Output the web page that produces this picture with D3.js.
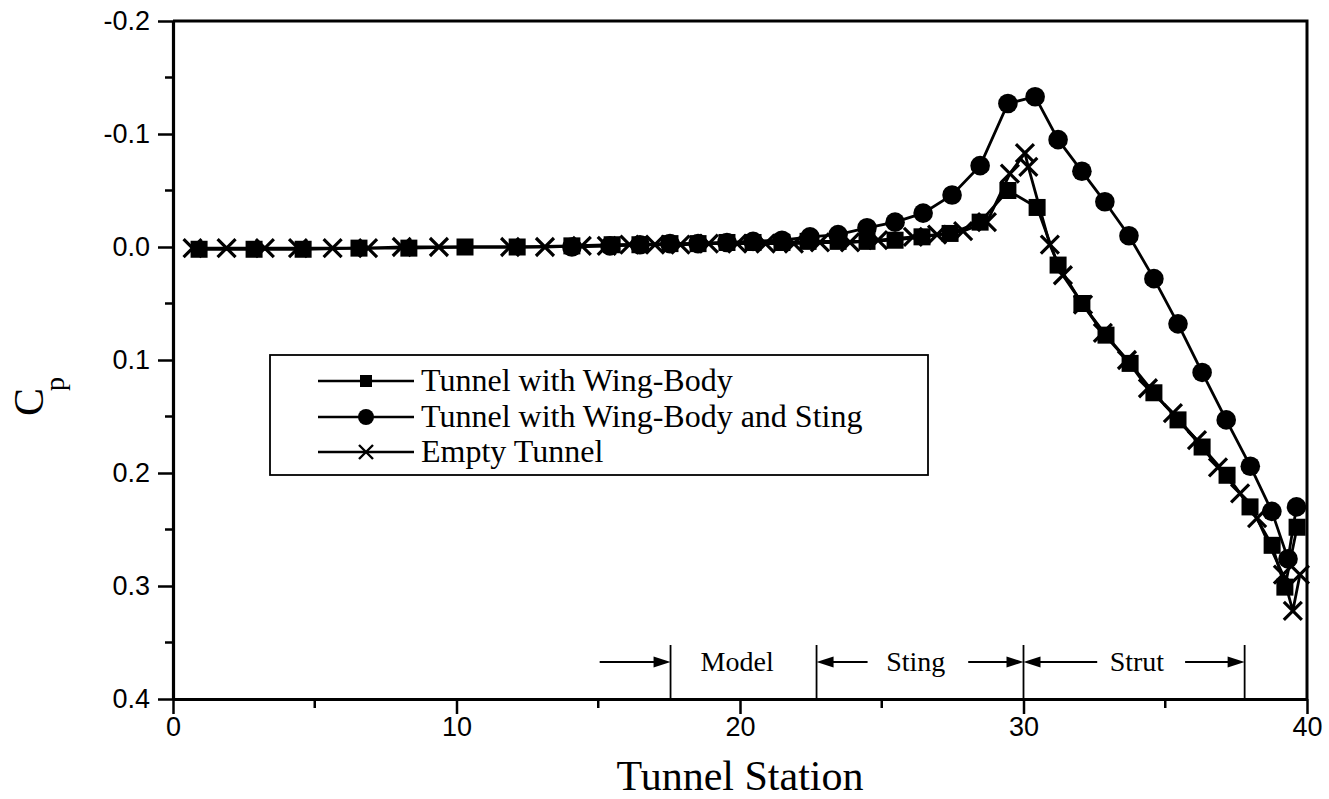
<!DOCTYPE html>
<html><head><meta charset="utf-8">
<script src="https://cdn.jsdelivr.net/npm/d3@7"></script>
<style>body{margin:0;background:#fff}svg{display:block}</style>
</head><body>
<svg id="c" width="1329" height="799"></svg>
<script>
// ---- data ----
const stationsWB = [0.92,2.86,4.59,6.56,8.32,10.30,12.14,14.07,15.49,16.47,17.53,18.52,19.54,20.46,21.48,22.40,23.46,24.48,25.47,26.42,27.41,28.47,29.45,30.48,31.22,32.06,32.91,33.76,34.60,35.45,36.30,37.18,37.99,38.77,39.22,39.65];
const cpWB       = [0.002,0.002,0.002,0.001,0.001,0.000,0.000,-0.001,-0.002,-0.002,-0.003,-0.003,-0.004,-0.004,-0.004,-0.005,-0.005,-0.005,-0.006,-0.009,-0.012,-0.022,-0.050,-0.035,0.016,0.050,0.078,0.103,0.129,0.153,0.177,0.202,0.230,0.264,0.301,0.248];

const stationsWBS = [14.07,15.41,16.47,17.53,18.52,19.54,20.46,21.48,22.47,23.46,24.48,25.47,26.46,27.48,28.47,29.45,30.41,31.22,32.06,32.87,33.72,34.60,35.45,36.30,37.15,38.00,38.76,39.33,39.63];
const cpWBS       = [0.000,-0.001,-0.002,-0.003,-0.003,-0.004,-0.005,-0.006,-0.009,-0.011,-0.017,-0.022,-0.030,-0.046,-0.072,-0.127,-0.133,-0.095,-0.067,-0.040,-0.010,0.028,0.068,0.111,0.153,0.194,0.234,0.276,0.230];

const stationsEmpty = [0.69,1.89,3.24,4.41,5.63,6.88,8.07,9.38,11.89,13.12,14.42,15.3,16.1,17.0,17.9,18.9,19.9,20.9,21.9,22.82,23.88,24.87,26.10,26.95,27.87,28.71,29.52,30.05,30.17,30.93,31.39,32.10,32.80,33.65,34.39,35.27,36.12,36.86,37.64,38.24,39.15,39.50,39.75];
const cpEmpty       = [0.001,0.001,0.001,0.001,0.001,0.001,0.000,0.000,0.000,0.000,-0.001,-0.001,-0.002,-0.002,-0.002,-0.003,-0.003,-0.003,-0.003,-0.004,-0.004,-0.006,-0.009,-0.011,-0.014,-0.022,-0.065,-0.083,-0.071,-0.002,0.025,0.051,0.076,0.100,0.125,0.147,0.171,0.195,0.218,0.240,0.290,0.322,0.290];

const seriesNames = ["Tunnel with Wing-Body","Tunnel with Wing-Body and Sting","Empty Tunnel"];
const seriesSymbols = ["square","circle","cross"];

const xTickValues = [0,10,20,30,40];
const xTickLabels = ["0","10","20","30","40"];
const xMinorTicks = [5,15,25,35];
const yTickValues = [-0.2,-0.1,0.0,0.1,0.2,0.3,0.4];
const yTickLabels = ["-0.2","-0.1","0.0","0.1","0.2","0.3","0.4"];
const yMinorTicks = [-0.15,-0.05,0.05,0.15,0.25,0.35];

const xTitle = "Tunnel Station";
const yTitleMain = "C";
const yTitleSub = "p";

const regionLabels = ["Model","Sting","Strut"];
const regionLabelAt = [19.9,26.2,34.0];
const regionBounds = [17.55,22.7,30.0,37.8];
const arrowTails = [15.05,24.5,28.05,32.6,35.7];
const arrowHeads = [17.55,22.7,30.0,30.0,37.8];

// ---- layout ----
const svg = d3.select("#c");
const L = 173, R = 1307, T = 21, B = 699;
const x = d3.scaleLinear().domain([0,40]).range([L,R]);
const y = d3.scaleLinear().domain([-0.2,0.4]).range([T,B]);
const serif = "'Liberation Serif','Times New Roman',serif";
const sans = "'Liberation Sans',Arial,sans-serif";

// frame top/right
svg.append("path").attr("d",`M${L},${T}H${R}V${B}`).attr("fill","none").attr("stroke","#000").attr("stroke-width",3);

// axes
const gx = svg.append("g").attr("transform",`translate(0,${B})`)
  .call(d3.axisBottom(x).tickValues(xTickValues).tickSize(15).tickSizeOuter(0).tickPadding(3)
    .tickFormat((d,i)=>xTickLabels[i]));
gx.append("g").selectAll("line").data(xMinorTicks).join("line")
  .attr("x1",d=>x(d)).attr("x2",d=>x(d)).attr("y1",0).attr("y2",9).attr("stroke","#000");
const gy = svg.append("g").attr("transform",`translate(${L},0)`)
  .call(d3.axisLeft(y).tickValues(yTickValues).tickSize(15).tickSizeOuter(0).tickPadding(8)
    .tickFormat((d,i)=>yTickLabels[i]));
gy.append("g").selectAll("line").data(yMinorTicks).join("line")
  .attr("y1",d=>y(d)).attr("y2",d=>y(d)).attr("x1",0).attr("x2",-8).attr("stroke","#000");
[gx,gy].forEach(g=>{
  g.select(".domain").attr("stroke-width",3.2);
  g.selectAll("line").attr("stroke-width",2.5);
  g.selectAll("text").attr("font-family",sans).attr("font-size",27).attr("fill","#000");
});

// series
const series = [
  {xs:stationsWB, ys:cpWB, sym:"square"},
  {xs:stationsWBS, ys:cpWBS, sym:"circle"},
  {xs:stationsEmpty, ys:cpEmpty, sym:"cross"}
];
const line = d3.line().x(d=>x(d[0])).y(d=>y(d[1]));
function drawMarker(g, sym, cx, cy){
  if(sym==="square") g.append("rect").attr("x",cx-8.5).attr("y",cy-8.5).attr("width",17).attr("height",17).attr("fill","#000");
  else if(sym==="circle") g.append("circle").attr("cx",cx).attr("cy",cy).attr("r",9.8).attr("fill","#000");
  else g.append("path").attr("d",`M${cx-9},${cy-9}L${cx+9},${cy+9}M${cx-9},${cy+9}L${cx+9},${cy-9}`).attr("stroke","#000").attr("stroke-width",3.2).attr("fill","none");
}
series.forEach(s=>{
  const pts = s.xs.map((v,i)=>[v,s.ys[i]]);
  svg.append("path").datum(pts).attr("d",line).attr("fill","none").attr("stroke","#000").attr("stroke-width",2.8);
  const g = svg.append("g");
  pts.forEach(p=>drawMarker(g,s.sym,x(p[0]),y(p[1])));
});

// legend
const lg = svg.append("g");
lg.append("rect").attr("x",270).attr("y",355).attr("width",658).attr("height",120).attr("fill","#fff").attr("stroke","#000").attr("stroke-width",1.8);
const rowY = [381,417,452];
seriesNames.forEach((n,i)=>{
  lg.append("line").attr("x1",318).attr("x2",414).attr("y1",rowY[i]).attr("y2",rowY[i]).attr("stroke","#000").attr("stroke-width",2.6);
  const sym = seriesSymbols[i];
  if(sym==="square") lg.append("rect").attr("x",360).attr("y",rowY[i]-6).attr("width",12).attr("height",12).attr("fill","#000");
  else if(sym==="circle") lg.append("circle").attr("cx",366).attr("cy",rowY[i]).attr("r",8).attr("fill","#000");
  else lg.append("path").attr("d",`M359,${rowY[i]-7}L373,${rowY[i]+7}M359,${rowY[i]+7}L373,${rowY[i]-7}`).attr("stroke","#000").attr("stroke-width",2.4);
  lg.append("text").attr("x",421).attr("y",rowY[i]+10).attr("font-family",serif).attr("font-size",32).attr("fill","#000").text(n);
});

// region annotations
const ay = 662;
regionBounds.forEach(b=>{
  svg.append("line").attr("x1",x(b)).attr("x2",x(b)).attr("y1",645).attr("y2",B).attr("stroke","#000").attr("stroke-width",1.8);
});
arrowTails.forEach((t,i)=>{
  const h = arrowHeads[i];
  const x0 = x(t), x1 = x(h), dir = Math.sign(x1-x0);
  svg.append("line").attr("x1",x0).attr("x2",x1-dir*14).attr("y1",ay).attr("y2",ay).attr("stroke","#000").attr("stroke-width",2.2);
  svg.append("path").attr("d",`M${x1},${ay}L${x1-dir*17},${ay-5.5}L${x1-dir*17},${ay+5.5}Z`).attr("fill","#000");
});
regionLabels.forEach((t,i)=>{
  svg.append("text").attr("x",x(regionLabelAt[i])).attr("y",ay+9).attr("text-anchor","middle")
    .attr("font-family",serif).attr("font-size",28).attr("fill","#000").text(t);
});

// titles
svg.append("text").attr("x",x(20)).attr("y",790).attr("text-anchor","middle")
  .attr("font-family",serif).attr("font-size",42).attr("fill","#000").text(xTitle);
svg.append("text").attr("transform","translate(43,402) rotate(-90)").attr("text-anchor","middle")
  .attr("font-family",serif).attr("font-size",42).attr("fill","#000").text(yTitleMain);
svg.append("text").attr("transform","translate(64,384) rotate(-90)").attr("text-anchor","middle")
  .attr("font-family",serif).attr("font-size",28).attr("fill","#000").text(yTitleSub);
</script>
</body></html>
